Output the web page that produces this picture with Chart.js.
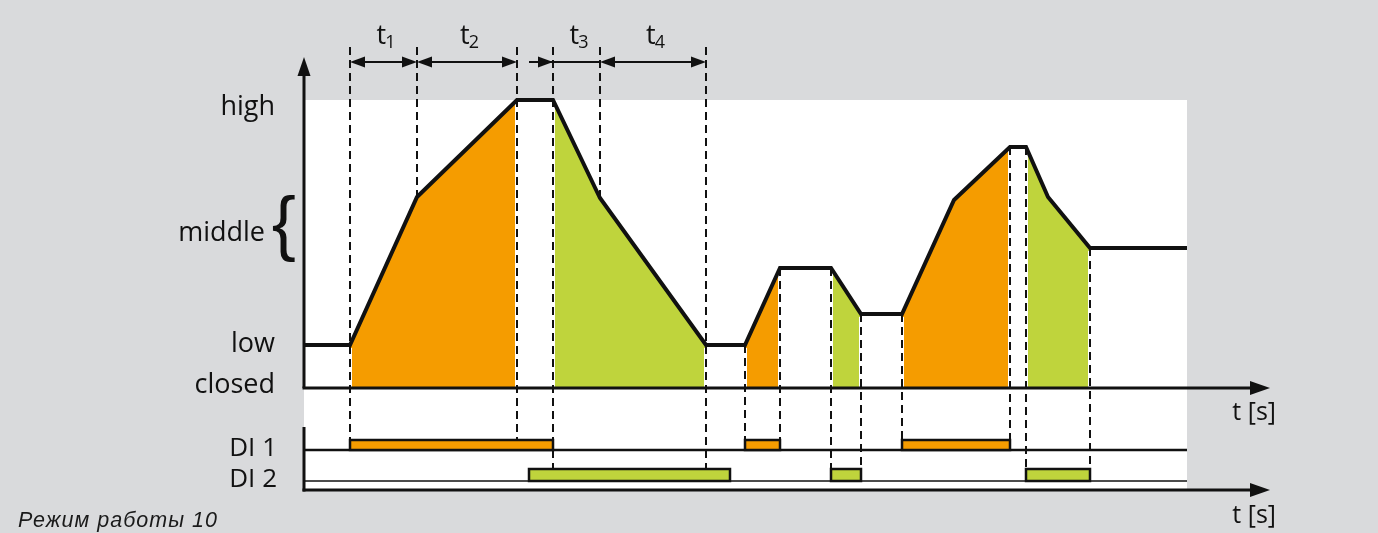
<!DOCTYPE html>
<html><head><meta charset="utf-8">
<script src="https://cdn.jsdelivr.net/npm/chart.js@4.4.1/dist/chart.umd.min.js"></script>
<style>html,body{margin:0;padding:0;background:#d9dadc;}#wrap{width:1378px;height:533px;position:relative;}</style>
</head><body><div id="wrap"><canvas id="c"></canvas></div>
<script>
// ---- data ----
const times = [0, 4.6, 11.3, 21.3, 24.9, 29.6, 40.2, 44.1, 47.6, 52.7, 55.7, 59.8, 65.0, 70.6, 72.2, 74.4, 78.6, 88.3];
const valve = [4.3, 4.3, 19.1, 28.8, 28.8, 19.0, 4.3, 4.3, 12.0, 12.0, 7.4, 7.4, 18.8, 24.1, 24.1, 19.1, 14.0, 14.0];
const phases = ['idle','open','open','hold','close','close','idle','open','hold','close','idle','open','open','hold','close','close','idle'];
const levelLabels = ['high', 'middle', 'low', 'closed'];
const levelValues = [28.8, 15.6, 4.3, 0];
const middleBand = [12.5, 19.3];
const laneLabels = ['DI 1', 'DI 2'];
const di1Spans = [[4.6, 24.9], [44.1, 47.6], [59.8, 70.6]];
const di2Spans = [[22.5, 42.6], [52.7, 55.7], [72.2, 78.6]];
const intervalNames = ['1', '2', '3', '4'];
const intervalSpans = [[4.6, 11.3], [11.3, 21.3], [24.9, 29.6], [29.6, 40.2]];
const markerTimes = [4.6, 11.3, 21.3, 24.9, 29.6, 40.2, 44.1, 47.6, 52.7, 55.7, 59.8, 70.6, 72.2, 78.6];
const markerLane = [1, 0, 1, 2, 0, 2, 1, 1, 2, 2, 1, 1, 2, 2];
const markerFromTop = [true, true, true, true, true, true, false, false, false, false, false, false, false, false];
const axisLabel = 't [s]';
const caption = 'Режим работы 10';

// ---- layout / style ----
const INK = '#111111', ORANGE = '#f59c00', GREEN = '#bfd43c', BG = '#d9dadc';
const phaseColor = {idle: 'rgba(255,255,255,0)', hold: 'rgba(255,255,255,0)', open: ORANGE, close: GREEN};
const LANES = [{base: -6.2, top: -5.2, color: ORANGE, lw: 2.5}, {base: -9.3, top: -8.1, color: GREEN, lw: 1.5}];
const Y_ANN_TOP = 34.1, Y_ARROW = 32.6, Y_AXIS_TIP = 33.1, LANE_AXIS_TOP = -3.9, BOTTOM_AXIS = -10.2, X_TIP = 96.6, PANEL_RIGHT = 88.3;
const FONT = '"Open Sans", "DejaVu Sans", sans-serif';

const curvePts = times.map((t, i) => ({x: t, y: valve[i]}));
function levelAt(t) {
  for (let i = 0; i < times.length - 1; i++) {
    if (t >= times[i] && t <= times[i + 1]) {
      const d = times[i + 1] - times[i];
      const f = d ? (t - times[i]) / d : 0;
      return valve[i] + f * (valve[i + 1] - valve[i]);
    }
  }
  return valve[valve.length - 1];
}
function head(ctx, x, y, dir, len, half) {
  ctx.beginPath();
  if (dir === 'r') { ctx.moveTo(x, y); ctx.lineTo(x - len, y - half); ctx.lineTo(x - len, y + half); }
  else if (dir === 'l') { ctx.moveTo(x, y); ctx.lineTo(x + len, y - half); ctx.lineTo(x + len, y + half); }
  else { ctx.moveTo(x, y); ctx.lineTo(x - half, y + len); ctx.lineTo(x + half, y + len); }
  ctx.closePath(); ctx.fill();
}
function line(ctx, x1, y1, x2, y2, w) {
  ctx.lineWidth = w; ctx.beginPath(); ctx.moveTo(x1, y1); ctx.lineTo(x2, y2); ctx.stroke();
}

const deco = {
  id: 'deco',
  beforeDraw(chart) {
    const {ctx, width, height} = chart;
    const X = v => chart.scales.x.getPixelForValue(v), Y = v => chart.scales.y.getPixelForValue(v);
    ctx.save();
    ctx.fillStyle = BG; ctx.fillRect(0, 0, width, height);
    ctx.fillStyle = '#ffffff';
    ctx.fillRect(X(0), Y(levelValues[0]), X(PANEL_RIGHT) - X(0), Y(BOTTOM_AXIS) - Y(levelValues[0]));
    ctx.restore();
  },
  afterDatasetDraw(chart, args) {
    if (args.index !== 1) return;
    const {ctx} = chart;
    const X = v => chart.scales.x.getPixelForValue(v), Y = v => chart.scales.y.getPixelForValue(v);
    ctx.save();
    ctx.lineCap = 'butt';
    // white gaps beside the fill borders (only where the marker runs down through the fill)
    ctx.strokeStyle = '#ffffff';
    markerTimes.forEach((t, i) => { if (markerLane[i]) line(ctx, X(t), Y(levelAt(t)) + 3, X(t), Y(0), 4); });
    // dashed markers
    ctx.strokeStyle = INK;
    ctx.setLineDash([8, 5]);
    markerTimes.forEach((t, i) => {
      const y1 = markerFromTop[i] ? Y(Y_ANN_TOP) : Y(levelAt(t));
      const y2 = markerLane[i] ? Y(LANES[markerLane[i] - 1].top) : Y(levelAt(t));
      line(ctx, X(t), y1, X(t), y2, 2);
    });
    ctx.restore();
  },
  afterDatasetsDraw(chart) {
    const {ctx} = chart;
    const X = v => chart.scales.x.getPixelForValue(v), Y = v => chart.scales.y.getPixelForValue(v);
    ctx.save();
    ctx.strokeStyle = INK; ctx.fillStyle = INK; ctx.lineCap = 'butt';
    // lane baselines
    LANES.forEach(l => line(ctx, X(0), Y(l.base), X(PANEL_RIGHT), Y(l.base), l.lw));
    // lane bars
    [di1Spans, di2Spans].forEach((spans, k) => {
      const l = LANES[k];
      spans.forEach(([a, b]) => {
        const x = X(a), w = X(b) - X(a), y = Y(l.top), h = Y(l.base) - Y(l.top);
        ctx.fillStyle = l.color; ctx.fillRect(x, y, w, h);
        ctx.lineWidth = 2.5; ctx.strokeStyle = INK; ctx.strokeRect(x, y, w, h);
      });
    });
    ctx.fillStyle = INK; ctx.strokeStyle = INK;
    // axes
    line(ctx, X(0), Y(0), X(0), Y(Y_AXIS_TIP) + 12, 3);
    head(ctx, X(0), Y(Y_AXIS_TIP), 'u', 19, 6.5);
    line(ctx, X(0) - 1.5, Y(0), X(X_TIP) - 12, Y(0), 3);
    head(ctx, X(X_TIP), Y(0), 'r', 20, 7);
    line(ctx, X(0), Y(LANE_AXIS_TOP), X(0), Y(BOTTOM_AXIS) + 1.5, 3);
    line(ctx, X(0) - 1.5, Y(BOTTOM_AXIS), X(X_TIP) - 12, Y(BOTTOM_AXIS), 3);
    head(ctx, X(X_TIP), Y(BOTTOM_AXIS), 'r', 20, 7);
    // interval arrows
    intervalSpans.forEach(([a, b], i) => {
      const y = Y(Y_ARROW);
      if (i === 2) {
        line(ctx, X(a) - 24, y, X(b), y, 2);
        head(ctx, X(a), y, 'r', 15, 5.5);
      } else {
        line(ctx, X(a) + 4, y, X(b) - 4, y, 2);
        head(ctx, X(a), y, 'l', 15, 5.5);
        head(ctx, X(b), y, 'r', 15, 5.5);
      }
      // label t with subscript
      ctx.textBaseline = 'alphabetic'; ctx.textAlign = 'left';
      ctx.font = '27px ' + FONT;
      const tw = ctx.measureText('t').width;
      ctx.font = '18px ' + FONT;
      const sw = ctx.measureText(intervalNames[i]).width;
      const cx = (X(a) + X(b)) / 2 + 3;
      const x0 = cx - (tw + sw) / 2;
      ctx.font = '27px ' + FONT; ctx.fillText('t', x0, Y(Y_ANN_TOP) - 3);
      ctx.font = '18px ' + FONT; ctx.fillText(intervalNames[i], x0 + tw - 1, Y(Y_ANN_TOP) + 1);
    });
    // level labels
    ctx.textAlign = 'right'; ctx.textBaseline = 'alphabetic';
    ctx.font = '27px ' + FONT;
    const lx = X(0) - 29;
    ctx.fillText(levelLabels[0], lx, Y(levelValues[0]) + 15);
    ctx.fillText(levelLabels[1], lx - 10, Y(levelValues[1]) + 9);
    ctx.fillText(levelLabels[2], lx, Y(levelValues[2]) + 7);
    ctx.fillText(levelLabels[3], lx, Y(levelValues[3]) + 5);
    // brace for middle band, sized to the band
    const bTop = Y(middleBand[1]), bBot = Y(middleBand[0]);
    ctx.font = '100px "Liberation Sans", Arial, sans-serif';
    ctx.textBaseline = 'alphabetic'; ctx.textAlign = 'right';
    let m = ctx.measureText('{');
    const size = 100 * (bBot - bTop) / (m.actualBoundingBoxAscent + m.actualBoundingBoxDescent);
    ctx.font = size.toFixed(1) + 'px "Liberation Sans", Arial, sans-serif';
    m = ctx.measureText('{');
    ctx.fillText('{', X(0) - 8, bTop + m.actualBoundingBoxAscent);
    // lane labels
    ctx.font = '26px ' + FONT;
    ctx.fillText(laneLabels[0], lx + 2, Y(LANES[0].base) + 6);
    ctx.fillText(laneLabels[1], lx + 2, Y(LANES[1].base) + 6);
    // axis labels
    ctx.font = '25px ' + FONT; ctx.textAlign = 'right';
    ctx.fillText(axisLabel, X(X_TIP) + 6, Y(0) + 32);
    ctx.fillText(axisLabel, X(X_TIP) + 6, Y(BOTTOM_AXIS) + 33);
    // caption
    ctx.textAlign = 'left';
    ctx.font = 'italic 21.5px "Liberation Sans", Arial, sans-serif'; ctx.fillStyle = '#1a1a1a';
    ctx.letterSpacing = '1px';
    ctx.fillText(caption, 18, chart.height - 6);
    ctx.restore();
  }
};

new Chart(document.getElementById('c'), {
  type: 'line',
  data: {datasets: [
    {label: 'valve', data: curvePts, borderColor: INK, borderWidth: 4, fill: false, pointRadius: 0, tension: 0, borderJoinStyle: 'miter', order: 0},
    {label: 'fill', data: curvePts, borderColor: 'rgba(0,0,0,0)', borderWidth: 0, fill: 'origin', pointRadius: 0, tension: 0,
     backgroundColor: 'rgba(0,0,0,0)', segment: {backgroundColor: c => phaseColor[phases[c.p0DataIndex]]}, order: 1}
  ]},
  options: {
    responsive: true, maintainAspectRatio: false, animation: false, events: [],
    layout: {padding: {left: 304, right: 108, top: 20, bottom: 43}},
    scales: {
      x: {type: 'linear', min: 0, max: 96.6, display: false},
      y: {type: 'linear', min: -10.2, max: 36.8, display: false}
    },
    plugins: {legend: {display: false}, tooltip: {enabled: false}, title: {display: false}}
  },
  plugins: [deco]
});
</script>
</body></html>
